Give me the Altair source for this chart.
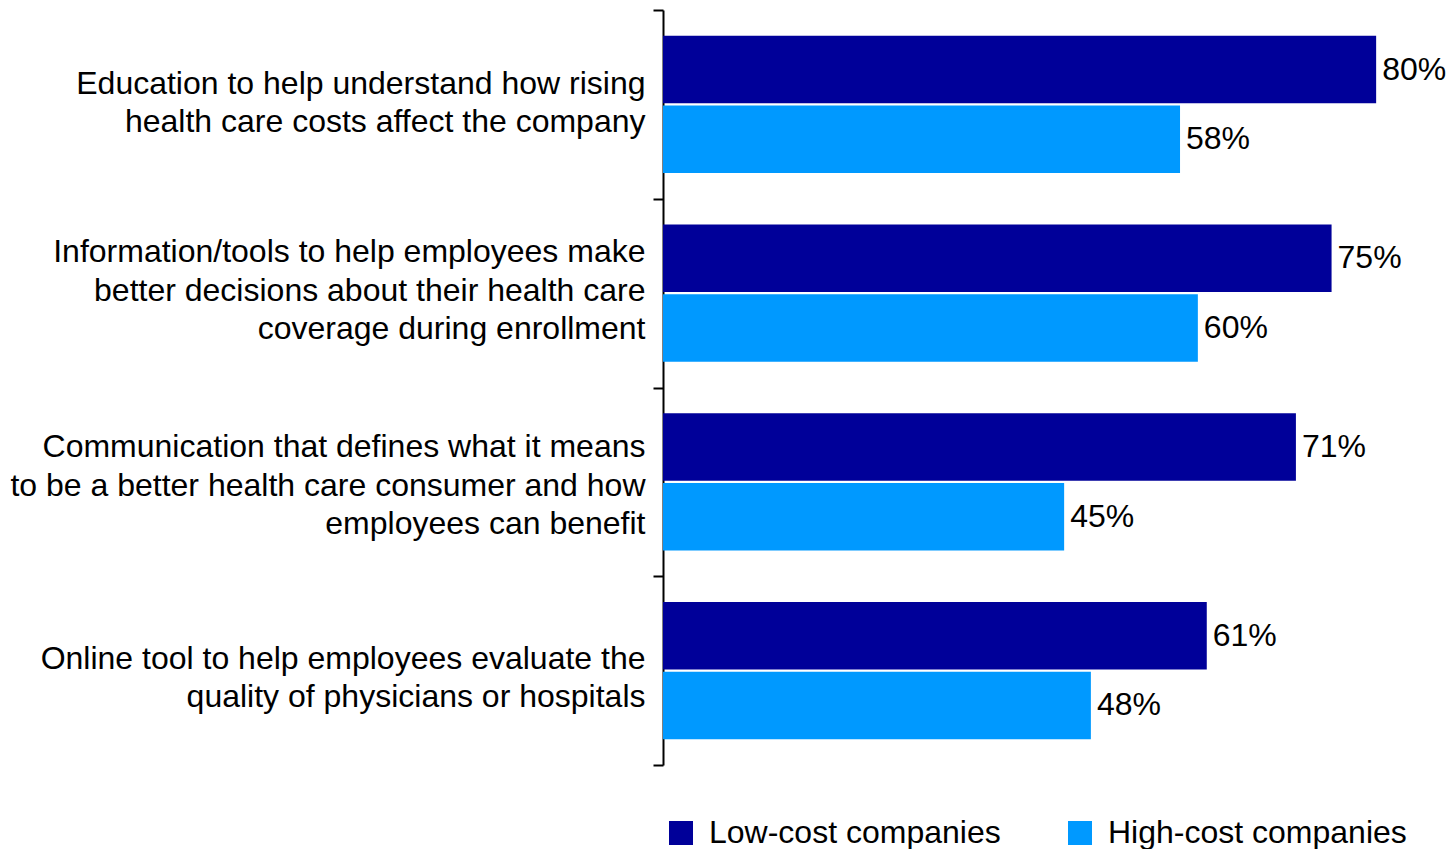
import altair as alt
import pandas as pd

categories = [
    "Education to help understand how rising|health care costs affect the company",
    "Information/tools to help employees make|better decisions about their health care|coverage during enrollment",
    "Communication that defines what it means|to be a better health care consumer and how|employees can benefit",
    "Online tool to help employees evaluate the|quality of physicians or hospitals",
]
series = ["Low-cost companies", "High-cost companies"]
low_cost = [80, 75, 71, 61]
high_cost = [58, 60, 45, 48]
colors = ["#000099", "#0099FF"]

rows = []
for c, lo, hi in zip(categories, low_cost, high_cost):
    rows.append({"category": c, "series": series[0], "value": lo, "label": f"{lo}%"})
    rows.append({"category": c, "series": series[1], "value": hi, "label": f"{hi}%"})
df = pd.DataFrame(rows)

FONT = "Liberation Sans"
FS = 32
LH = 38.5

y_enc = alt.Y(
    "category:N",
    sort=categories,
    scale=alt.Scale(paddingInner=0, paddingOuter=0),
    axis=alt.Axis(
        title=None,
        labelExpr="split(datum.label, '|')",
        labelFont=FONT,
        labelFontSize=FS,
        labelLineHeight=LH,
        labelColor="black",
        labelPadding=8,
        labelLimit=800,
        labelOffset={
            "condition": [
                {"test": "indexof(datum.label, 'Information') == 0", "value": -41.5},
                {"test": "indexof(datum.label, 'Communication') == 0", "value": -35},
                {"test": "indexof(datum.label, 'Online') == 0", "value": -12.5},
            ],
            "value": -21,
        },
        tickBand="extent",
        tickSize=10,
        tickColor="black",
        tickWidth=2,
        domainColor="black",
        domainWidth=2,
    ),
)
x_enc = alt.X("value:Q", scale=alt.Scale(domain=[0, 87.5]), axis=None)
yoff = alt.YOffset(
    "series:N", sort=series, scale=alt.Scale(paddingInner=0.029, paddingOuter=0.372)
)

bars = alt.Chart(df).mark_bar().encode(
    y=y_enc,
    x=x_enc,
    yOffset=yoff,
    color=alt.Color(
        "series:N",
        sort=series,
        scale=alt.Scale(domain=series, range=colors),
        legend=alt.Legend(
            title=None,
            orient="none",
            direction="horizontal",
            legendX=2,
            legendY=807,
            symbolType="square",
            symbolSize=576,
            symbolStrokeWidth=0,
            symbolOpacity=1,
            labelFont=FONT,
            labelFontSize=FS,
            labelColor="black",
            labelOffset=12,
            columnPadding=63,
            labelLimit=400,
        ),
    ),
)

text = alt.Chart(df).mark_text(
    align="left", baseline="middle", dx=6, font=FONT, fontSize=FS, color="black"
).encode(
    y=alt.Y("category:N", sort=categories),
    x=x_enc,
    yOffset=yoff,
    text="label:N",
)

chart = (
    alt.layer(bars, text)
    .properties(
        width=780,
        height=755,
        autosize=alt.AutoSizeParams(type="none"),
        padding={"left": 663, "top": 10, "right": 9, "bottom": 84},
        background="white",
    )
    .configure_view(stroke=None, strokeWidth=0)
)

chart.save("out.html", embed_options={"renderer": "svg", "actions": False})
